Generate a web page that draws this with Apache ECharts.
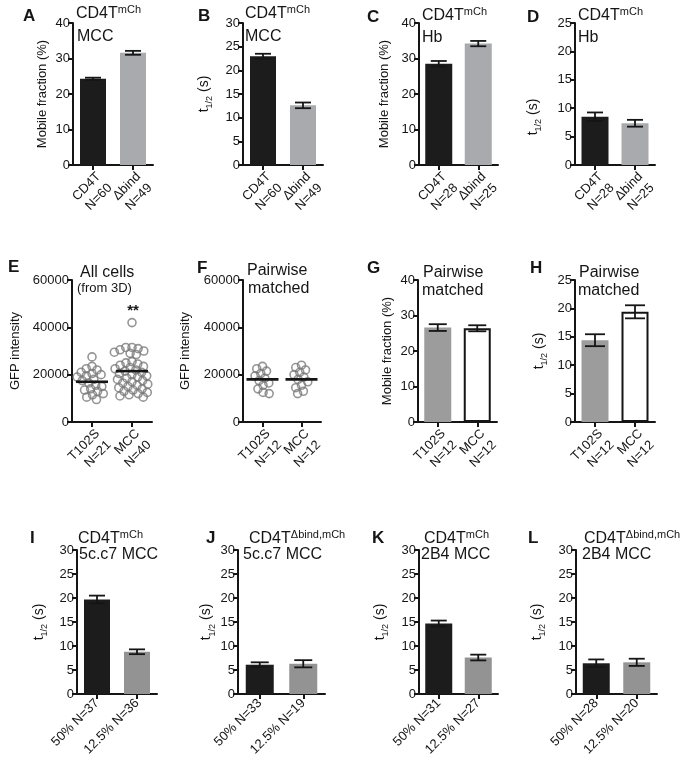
<!DOCTYPE html>
<html><head><meta charset="utf-8">
<script src="https://cdn.jsdelivr.net/npm/echarts@6/dist/echarts.min.js"></script>
<style>html,body{margin:0;padding:0;background:#fff}#c{width:685px;height:766px}</style>
</head><body><div id="c"></div>
<script>
// ---------------- data ----------------
const catsA = ['CD4T\nN=60', 'Δbind\nN=49'];
const mobileA = [24.3, 31.6];
const errA = [0.3, 0.55];
const catsB = ['CD4T\nN=60', 'Δbind\nN=49'];
const t12B = [23.0, 12.6];
const errB = [0.5, 0.6];
const catsC = ['CD4T\nN=28', 'Δbind\nN=25'];
const mobileC = [28.5, 34.2];
const errC = [0.8, 0.75];
const catsD = ['CD4T\nN=28', 'Δbind\nN=25'];
const t12D = [8.5, 7.35];
const errD = [0.75, 0.6];
const catsE = ['T102S\nN=21', 'MCC\nN=40'];
const gfpE_T102S = [27500, 23500, 22500, 22000, 21000, 20500, 20000, 19500, 19000, 18000, 17500,
  16500, 15500, 15000, 14000, 13500, 13000, 12000, 11500, 10500, 9500];
const gfpE_MCC = [42000, 31500, 31500, 31000, 30500, 30000, 29500, 29000, 28500, 25500, 25000,
  24500, 24000, 23500, 23000, 22500, 22000, 21500, 21000, 20500, 20000, 19500, 19000, 18500,
  18000, 17500, 17000, 16500, 16000, 15500, 15000, 14500, 14000, 13500, 13000, 12500, 12000,
  11500, 11000, 10500];
const meanE = [17000, 21500];
const catsF = ['T102S\nN=12', 'MCC\nN=12'];
const gfpF_T102S = [23500, 22500, 21500, 20500, 19500, 18500, 17500, 16500, 15500, 14000, 12500, 12000];
const gfpF_MCC = [24000, 23000, 22000, 21000, 20000, 19000, 18000, 17000, 15500, 14500, 13000, 12000];
const meanF = [18000, 18000];
const catsG = ['T102S\nN=12', 'MCC\nN=12'];
const mobileG = [26.6, 26.4];
const errG = [0.95, 0.85];
const catsH = ['T102S\nN=12', 'MCC\nN=12'];
const t12H = [14.4, 19.4];
const errH = [1.05, 1.15];
const catsI = ['50% N=37', '12.5% N=36'];
const t12I = [19.7, 8.8];
const errI = [0.8, 0.5];
const catsJ = ['50% N=33', '12.5% N=19'];
const t12J = [6.1, 6.3];
const errJ = [0.5, 0.75];
const catsK = ['50% N=31', '12.5% N=27'];
const t12K = [14.7, 7.6];
const errK = [0.6, 0.6];
const catsL = ['50% N=28', '12.5% N=20'];
const t12L = [6.4, 6.6];
const errL = [0.8, 0.75];
const yTicksMobile = [0, 10, 20, 30, 40];
const yTicks30 = [0, 5, 10, 15, 20, 25, 30];
const yTicks25 = [0, 5, 10, 15, 20, 25];
const yTicksGFP = [0, 20000, 40000, 60000];

// ---------------- style / layout ----------------
const FONT = '"Liberation Sans", Arial, Helvetica, sans-serif';
const INK = '#151515';
const BLACK = '#1c1c1c', GRAY_AD = '#a8aaad', GRAY_GH = '#9c9c9c', GRAY_IL = '#939393', RING = '#7b7b7b';
const layout = {
  A: {left: 73, top: 23, width: 80, height: 142, nameGap: 24, bw: 26, cap: 8},
  B: {left: 243, top: 23, width: 80, height: 142, nameGap: 29, bw: 26, cap: 8},
  C: {left: 419, top: 23, width: 79, height: 142, nameGap: 28, bw: 27, cap: 8},
  D: {left: 575, top: 23, width: 80, height: 142, nameGap: 32, bw: 27, cap: 8, namePad: [0, 46, 0, 0]},
  E: {left: 72, top: 280, width: 80, height: 142, nameGap: 50},
  F: {left: 243, top: 280, width: 78, height: 142, nameGap: 51},
  G: {left: 418, top: 280, width: 79, height: 142, nameGap: 24, bw: 27, cap: 9},
  H: {left: 575, top: 280, width: 80, height: 142, nameGap: 26, bw: 27, cap: 10},
  I: {left: 77, top: 550, width: 80, height: 144, nameGap: 28, bw: 26, cap: 8},
  J: {left: 238, top: 550, width: 87, height: 144, nameGap: 18, bw: 28, cap: 9},
  K: {left: 419, top: 550, width: 79, height: 144, nameGap: 29, bw: 27, cap: 8},
  L: {left: 576, top: 550, width: 81, height: 144, nameGap: 29, bw: 27, cap: 8}
};

const panels = [
  {k: 'A', kind: 'bar', cats: catsA, vals: mobileA, errs: errA, fills: [BLACK, GRAY_AD], ticks: yTicksMobile, yname: 'mob'},
  {k: 'B', kind: 'bar', cats: catsB, vals: t12B, errs: errB, fills: [BLACK, GRAY_AD], ticks: yTicks30, yname: 't'},
  {k: 'C', kind: 'bar', cats: catsC, vals: mobileC, errs: errC, fills: [BLACK, GRAY_AD], ticks: yTicksMobile, yname: 'mob'},
  {k: 'D', kind: 'bar', cats: catsD, vals: t12D, errs: errD, fills: [BLACK, GRAY_AD], ticks: yTicks25, yname: 't'},
  {k: 'E', kind: 'swarm', cats: catsE, groups: [gfpE_T102S, gfpE_MCC], means: meanE, ticks: yTicksGFP, yname: 'gfp'},
  {k: 'F', kind: 'swarm', cats: catsF, groups: [gfpF_T102S, gfpF_MCC], means: meanF, ticks: yTicksGFP, yname: 'gfp'},
  {k: 'G', kind: 'bar', cats: catsG, vals: mobileG, errs: errG, fills: [GRAY_GH, '#ffffff'], ticks: yTicksMobile, yname: 'mob'},
  {k: 'H', kind: 'bar', cats: catsH, vals: t12H, errs: errH, fills: [GRAY_GH, '#ffffff'], ticks: yTicks25, yname: 't'},
  {k: 'I', kind: 'bar', cats: catsI, vals: t12I, errs: errI, fills: [BLACK, GRAY_IL], ticks: yTicks30, yname: 't'},
  {k: 'J', kind: 'bar', cats: catsJ, vals: t12J, errs: errJ, fills: [BLACK, GRAY_IL], ticks: yTicks30, yname: 't'},
  {k: 'K', kind: 'bar', cats: catsK, vals: t12K, errs: errK, fills: [BLACK, GRAY_IL], ticks: yTicks30, yname: 't'},
  {k: 'L', kind: 'bar', cats: catsL, vals: t12L, errs: errL, fills: [BLACK, GRAY_IL], ticks: yTicks30, yname: 't'}
];

const yNames = {mob: 'Mobile fraction (%)', gfp: 'GFP intensity', t: '{t|t}{s|1/2}{t| (s)}'};

// beeswarm horizontal layout (pixel offsets), purely positional
function swarm(values, pxPerUnitY, diam) {
  const order = values.map((v, i) => i).sort((a, b) => values[b] - values[a]);
  const placed = [], xs = new Array(values.length);
  for (const i of order) {
    const y = values[i] * pxPerUnitY;
    const forb = [];
    for (const p of placed) {
      const dy = Math.abs(p.y - y);
      if (dy < diam) { const dx = Math.sqrt(diam * diam - dy * dy); forb.push([p.x - dx, p.x + dx]); }
    }
    const cands = [0];
    forb.forEach(f => cands.push(f[0], f[1]));
    cands.sort((a, b) => Math.abs(a) - Math.abs(b) || a - b);
    let x = 0;
    for (const c of cands) {
      if (forb.every(f => c <= f[0] + 1e-6 || c >= f[1] - 1e-6)) { x = c; break; }
    }
    placed.push({x, y}); xs[i] = x;
  }
  return xs;
}

const grids = [], xAxes = [], yAxes = [], series = [];
panels.forEach((p, gi) => {
  const L = layout[p.k];
  grids.push({left: L.left, top: L.top, width: L.width, height: L.height, containLabel: false, outerBoundsMode: 'none'});
  const twoLine = p.cats[0].indexOf('\n') >= 0;
  const catIdx = xAxes.length;
  xAxes.push({
    type: 'category', gridIndex: gi, data: p.cats, boundaryGap: true,
    axisLine: {show: true, lineStyle: {color: INK, width: 2}},
    axisTick: {show: true, alignWithLabel: true, length: 5, lineStyle: {color: INK, width: 2}},
    axisLabel: {show: true, interval: 0, rotate: 45, color: INK, fontFamily: FONT, fontSize: 13,
      lineHeight: 16, margin: twoLine ? 4 : 7, align: 'right', verticalAlign: twoLine ? 'top' : 'middle'},
    splitLine: {show: false}
  });
  const ticks = p.ticks;
  const yIdx = yAxes.length;
  yAxes.push({
    type: 'value', gridIndex: gi, min: ticks[0], max: ticks[ticks.length - 1], interval: ticks[1] - ticks[0],
    axisLine: {show: true, onZero: false, lineStyle: {color: INK, width: 2}},
    axisTick: {show: true, length: 5, lineStyle: {color: INK, width: 2}},
    axisLabel: {show: true, color: INK, fontFamily: FONT, fontSize: 13, margin: 3, formatter: v => String(v)},
    splitLine: {show: false},
    name: yNames[p.yname], nameLocation: 'middle', nameGap: L.nameGap,
    nameTextStyle: {color: INK, fontFamily: FONT, fontSize: 13, padding: L.namePad || 0,
      rich: {t: {fontSize: 14, fontFamily: FONT, color: INK}, s: {fontSize: 9, fontFamily: FONT, color: INK, verticalAlign: 'bottom', lineHeight: 20}}}
  });
  if (p.kind === 'bar') {
    series.push({
      type: 'bar', xAxisIndex: catIdx, yAxisIndex: yIdx, barWidth: L.bw, silent: true, z: 2,
      data: p.vals.map((v, i) => ({
        value: v,
        itemStyle: p.fills[i] === '#ffffff'
          ? {color: '#ffffff', borderColor: INK, borderWidth: 2}
          : {color: p.fills[i], borderWidth: 0}
      }))
    });
    const cap = L.cap;
    series.push({
      type: 'custom', xAxisIndex: catIdx, yAxisIndex: yIdx, silent: true, z: 4, clip: false,
      encode: {x: 0, y: 1},
      data: p.vals.map((v, i) => [i, v, p.errs[i]]),
      renderItem: function (params, api) {
        const i = api.value(0), v = api.value(1), e = api.value(2);
        const top = api.coord([i, v + e]);
        const bot = api.coord([i, v - e]);
        const cx = top[0];
        const st = {stroke: INK, lineWidth: 1.8};
        return {type: 'group', children: [
          {type: 'line', shape: {x1: cx, y1: top[1], x2: cx, y2: bot[1]}, style: st},
          {type: 'line', shape: {x1: cx - cap, y1: top[1], x2: cx + cap, y2: top[1]}, style: st},
          {type: 'line', shape: {x1: cx - cap, y1: bot[1], x2: cx + cap, y2: bot[1]}, style: st}
        ]};
      }
    });
  } else {
    const valIdx = xAxes.length;
    xAxes.push({type: 'value', gridIndex: gi, min: -0.5, max: 1.5, show: false});
    const yMax = ticks[ticks.length - 1];
    const pxY = L.height / yMax;
    const pxX = L.width / 2;
    p.groups.forEach((vals, gIdx) => {
      const offs = swarm(vals, pxY, 6.2);
      series.push({
        type: 'scatter', xAxisIndex: valIdx, yAxisIndex: yIdx, silent: true, z: 3,
        symbol: 'circle', symbolSize: 8,
        itemStyle: {color: 'rgba(255,255,255,0)', borderColor: RING, borderWidth: 1.6},
        data: vals.map((v, i) => [gIdx + offs[i] / pxX, v])
      });
    });
    series.push({
      type: 'custom', xAxisIndex: valIdx, yAxisIndex: yIdx, silent: true, z: 5, clip: false,
      encode: {x: 0, y: 1},
      data: p.means.map((m, i) => [i, m]),
      renderItem: function (params, api) {
        const c = api.coord([api.value(0), api.value(1)]);
        return {type: 'line', shape: {x1: c[0] - 16, y1: c[1], x2: c[0] + 16, y2: c[1]},
          style: {stroke: INK, lineWidth: 2.6}};
      }
    });
  }
});

// ---------------- text annotations ----------------
const supRich = {
  b: {fontSize: 16, fontFamily: FONT, lineHeight: 20},
  s: {fontSize: 11, fontFamily: FONT, verticalAlign: 'top', lineHeight: 20, padding: [0, 0, 6, 0]}
};
function txt(text, x, y, opt) {
  opt = opt || {};
  return {type: 'text', x: x, y: y, silent: true, z: 10,
    style: {text: text, fill: INK, fontFamily: FONT, fontSize: opt.size || 16, fontWeight: opt.bold ? 'bold' : 'normal',
      align: opt.align || 'left', verticalAlign: 'middle', rich: opt.rich}};
}
const letter = (t, x, y) => txt(t, x, y, {bold: true, size: 17});
const sup = (base, s) => '{b|' + base + '}{s|' + s + '}';
const graphics = [
  letter('A', 23, 16), letter('B', 198, 16), letter('C', 367, 17), letter('D', 527, 17),
  letter('E', 8, 267), letter('F', 197, 268), letter('G', 367, 268), letter('H', 530, 268),
  letter('I', 30, 538), letter('J', 206, 538), letter('K', 372, 538), letter('L', 528, 538),
  txt(sup('CD4T', 'mCh'), 76, 14, {rich: supRich}), txt('MCC', 77, 37),
  txt(sup('CD4T', 'mCh'), 245, 14, {rich: supRich}), txt('MCC', 245, 37),
  txt(sup('CD4T', 'mCh'), 422, 16, {rich: supRich}), txt('Hb', 422, 38),
  txt(sup('CD4T', 'mCh'), 578, 16, {rich: supRich}), txt('Hb', 578, 38),
  txt('All cells', 80, 273), txt('(from 3D)', 77, 288, {size: 13}),
  txt('Pairwise', 247, 271), txt('matched', 248, 289),
  txt('Pairwise', 423, 273), txt('matched', 422, 291),
  txt('Pairwise', 579, 273), txt('matched', 578, 291),
  txt(sup('CD4T', 'mCh'), 78, 539, {rich: supRich}), txt('5c.c7 MCC', 79, 555),
  txt(sup('CD4T', 'Δbind,mCh'), 249, 539, {rich: supRich}), txt('5c.c7 MCC', 243, 555),
  txt(sup('CD4T', 'mCh'), 424, 539, {rich: supRich}), txt('2B4 MCC', 421, 555),
  txt(sup('CD4T', 'Δbind,mCh'), 584, 539, {rich: supRich}), txt('2B4 MCC', 582, 555),
  txt('**', 133, 311, {size: 15, bold: true, align: 'center'})
];

const chart = echarts.init(document.getElementById('c'), null, {renderer: 'canvas'});
chart.setOption({
  animation: false,
  backgroundColor: '#ffffff',
  grid: grids, xAxis: xAxes, yAxis: yAxes, series: series,
  graphic: {elements: graphics}
});
</script>
</body></html>
